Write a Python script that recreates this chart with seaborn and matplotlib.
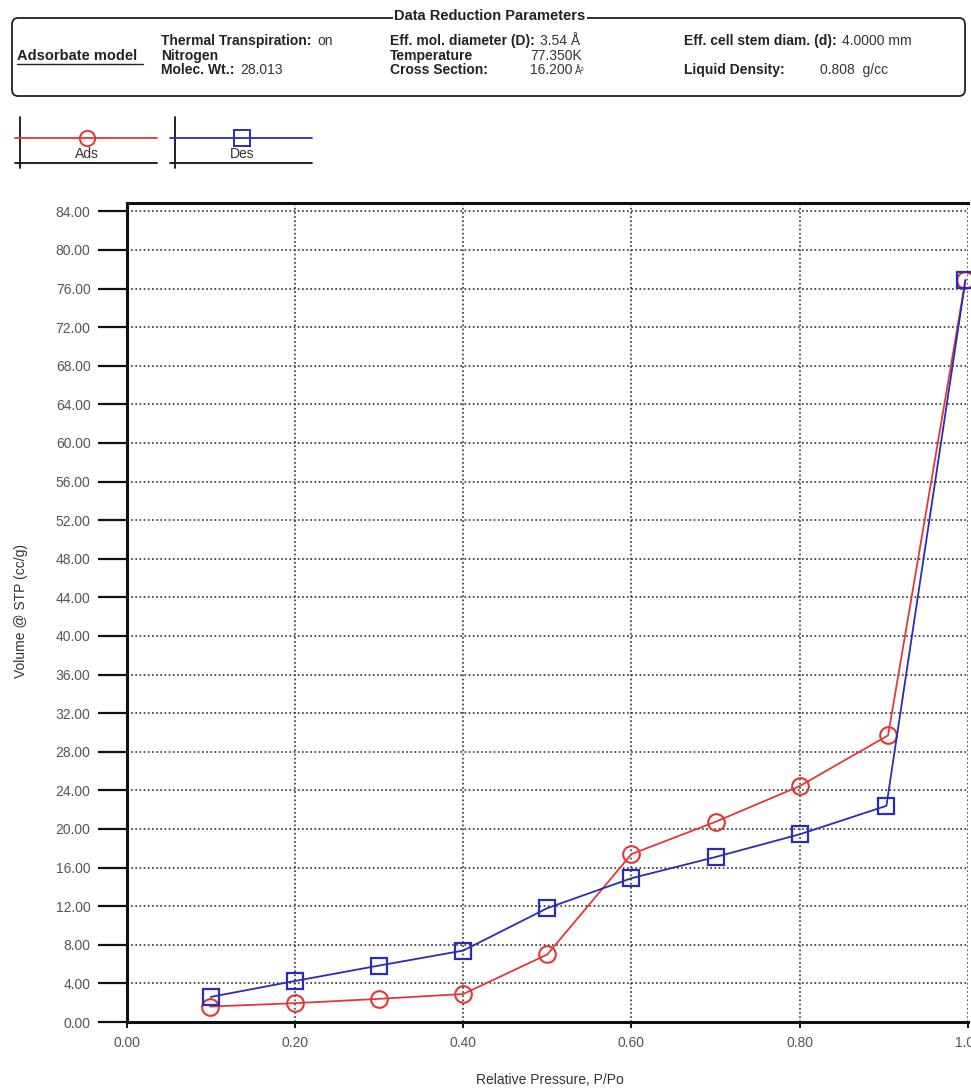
import numpy as np
import pandas as pd
import seaborn as sns
import matplotlib.pyplot as plt
from matplotlib.patches import FancyBboxPatch
from matplotlib.lines import Line2D

# isotherm data
ads_p = [0.099, 0.2, 0.3, 0.4, 0.5, 0.6, 0.7, 0.8, 0.905, 0.997]
ads_v = [1.6, 1.95, 2.4, 2.9, 7.0, 17.4, 20.75, 24.45, 29.7, 76.9]
des_p = [0.1, 0.2, 0.3, 0.4, 0.5, 0.6, 0.7, 0.8, 0.903, 0.997]
des_v = [2.6, 4.25, 5.85, 7.4, 11.8, 14.9, 17.1, 19.45, 22.4, 76.9]

y_ticks = np.arange(0, 85, 4)
x_ticks = [0.0, 0.2, 0.4, 0.6, 0.8, 1.0]

RED = "#e0383a"
BLUE = "#2b2bb8"
W, H = 971, 1092

sns.set_style("white")
plt.rcParams['font.family'] = ['Liberation Sans', 'DejaVu Sans']

fig = plt.figure(figsize=(W / 100, H / 100), dpi=100)


def fx(px):
    return px / W


def fy(py):
    return 1 - py / H


ax = fig.add_axes([fx(126.7), fy(1022), fx(968) - fx(126.7), fy(202.7) - fy(1022)])

ads = pd.DataFrame({"p": ads_p, "v": ads_v})
des = pd.DataFrame({"p": des_p, "v": des_v})

sns.lineplot(data=ads, x="p", y="v", ax=ax, color=RED, lw=1.3, marker="o",
             markersize=12, markerfacecolor="none", markeredgecolor=RED,
             markeredgewidth=1.5, clip_on=False, zorder=3)
sns.lineplot(data=des, x="p", y="v", ax=ax, color=BLUE, lw=1.3, marker="s",
             markersize=11, markerfacecolor="none", markeredgecolor=BLUE,
             markeredgewidth=1.6, clip_on=False, zorder=4)

ax.set_xlim(0, 1.0)
ax.set_ylim(0, 84.9)
ax.set_xticks(x_ticks)
ax.set_yticks(y_ticks)
ax.set_xticklabels([f"{t:.2f}" for t in x_ticks])
ax.set_yticklabels([f"{t:.2f}" for t in y_ticks])
ax.set_xlabel("")
ax.set_ylabel("")

for s in ["left", "bottom", "top"]:
    ax.spines[s].set_linewidth(2.2)
    ax.spines[s].set_color("#111111")
ax.spines["right"].set_visible(False)

ax.grid(True, linestyle=(0, (1, 1.5)), color="#333333", lw=1.2)
ax.set_axisbelow(True)
ax.tick_params(axis="y", direction="out", length=21, width=1.6, color="#111111",
               pad=5, labelsize=10, labelcolor="#555555", left=True)
ax.tick_params(axis="x", direction="out", length=4, width=1.4, color="#111111",
               pad=6, labelsize=10, labelcolor="#555555", bottom=True)

fig.text(fx(550), fy(1080), "Relative Pressure, P/Po", ha="center", va="center",
         fontsize=10, color="#333333")
fig.text(fx(21), fy(611), "Volume @ STP (cc/g)", ha="center", va="center",
         rotation=90, fontsize=10, color="#333333")

# header box
box = FancyBboxPatch((fx(12), fy(96)), fx(953) - fx(0), fy(18) - fy(96),
                     boxstyle="round,pad=0,rounding_size=0.006",
                     transform=fig.transFigure, fill=False, lw=1.3, ec="#222222")
fig.add_artist(box)
fig.text(fx(490), fy(16), "Data Reduction Parameters", ha="center", va="center",
         fontsize=10.5, fontweight="bold", color="#222222",
         bbox=dict(fc="white", ec="none", pad=1))

HS = 10


def label(x, y, s, bold=True, size=HS):
    return fig.text(fx(x), fy(y), s, ha="left", va="center", fontsize=size,
                    fontweight="bold" if bold else "normal",
                    color="#222222" if bold else "#333333")


def pair(x, y, bold, value, gap=4):
    t = label(x, y, bold)
    fig.text(0, 0, "")
    ax.annotate(value, xy=(1, 0.5), xycoords=t, xytext=(gap, 0),
                textcoords="offset points", ha="left", va="center",
                fontsize=HS, color="#333333", annotation_clip=False)


label(17, 56, "Adsorbate model", size=10.5)
fig.add_artist(Line2D([fx(17), fx(143)], [fy(63.5), fy(63.5)], color="#222222", lw=1))

pair(161, 41, "Thermal Transpiration:", "on")
label(161, 56, "Nitrogen")
pair(161, 70, "Molec. Wt.:", "28.013")

pair(390, 41, "Eff. mol. diameter (D):", "3.54 Å")
label(390, 56, "Temperature")
label(530, 56, "77.350K", bold=False)
label(390, 70, "Cross Section:")
label(530, 70, "16.200", bold=False)
label(575, 71, "Å²", bold=False, size=7)

pair(684, 41, "Eff. cell stem diam. (d):", "4.0000 mm")
label(684, 70, "Liquid Density:")
label(820, 70, "0.808  g/cc", bold=False)

# legend
for x0, x1, col, mk, ms, name in [(15, 157, RED, "o", 11, "Ads"),
                                 (170, 312, BLUE, "s", 11, "Des")]:
    xv = x0 + 5
    fig.add_artist(Line2D([fx(xv), fx(xv)], [fy(117), fy(168)], color="#111111", lw=1.3))
    fig.add_artist(Line2D([fx(x0), fx(x1)], [fy(163), fy(163)], color="#111111", lw=1.3))
    fig.add_artist(Line2D([fx(x0), fx(x1)], [fy(138), fy(138)], color=col, lw=1.3))
    xm = (x0 + x1) / 2 + 1
    fig.add_artist(Line2D([fx(xm)], [fy(138)], marker=mk, markersize=ms,
                          markerfacecolor="none", markeredgecolor=col,
                          markeredgewidth=1.4, lw=0))
    fig.text(fx(xm), fy(154), name, ha="center", va="center", fontsize=10,
             color="#333333")

fig.savefig("out.png", dpi=100)
